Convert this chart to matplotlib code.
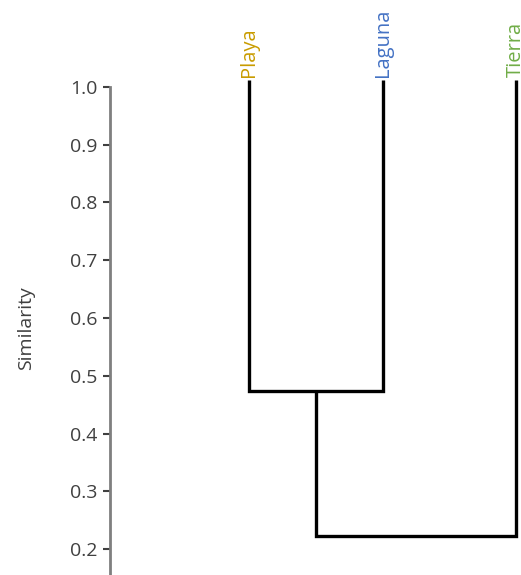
import matplotlib.pyplot as plt

# data
leaves = ['Playa', 'Laguna', 'Tierra']
leaf_colors = ['#c99c00', '#4472c4', '#70ad47']
leaf_height = 1.0
# merges: (left node, right node, similarity)
merge_left = [0, 3]
merge_right = [1, 2]
merge_sim = [0.474, 0.223]
yticks = [0.2, 0.3, 0.4, 0.5, 0.6, 0.7, 0.8, 0.9, 1.0]

plt.rcParams['font.family'] = ['Open Sans', 'DejaVu Sans']

fig = plt.figure(figsize=(5.21, 5.75), dpi=100)
ax = fig.add_axes([0, 0, 1, 1])
ax.set_xlim(-1.865, 2.037)
ax.set_ylim(0.155, 1.1506)

# node positions / heights
node_x = list(range(len(leaves)))
top_pad = 0.012
node_h = [leaf_height + top_pad] * len(leaves)

for l, r, s in zip(merge_left, merge_right, merge_sim):
    xl, xr = node_x[l], node_x[r]
    ax.plot([xl, xl, xr, xr], [node_h[l], s, s, node_h[r]],
            color='black', lw=2.4, solid_joinstyle='miter', solid_capstyle='butt')
    node_x.append((xl + xr) / 2)
    node_h.append(s)

for i, (name, c) in enumerate(zip(leaves, leaf_colors)):
    ax.text(i, leaf_height + top_pad + 0.005, name, rotation=90, ha='center', va='bottom',
            color=c, fontsize=14.5)

# axis styling
for sp in ['top', 'right', 'bottom']:
    ax.spines[sp].set_visible(False)
ax.spines['left'].set_position(('data', -1.041))
ax.spines['left'].set_bounds(0.155, 1.0)
ax.spines['left'].set_color('#7f7f7f')
ax.spines['left'].set_linewidth(2)
ax.set_xticks([])
ax.set_yticks(yticks)
ax.set_yticklabels([f'{t:.1f}' for t in yticks])
ax.tick_params(axis='y', length=5, width=1.5, color='#404040', labelcolor='#404040',
               labelsize=14, pad=4)
ax.text(-1.67, 0.583, 'Similarity', rotation=90, ha='center', va='center',
        color='#404040', fontsize=14)

fig.savefig('out.png', dpi=100)
